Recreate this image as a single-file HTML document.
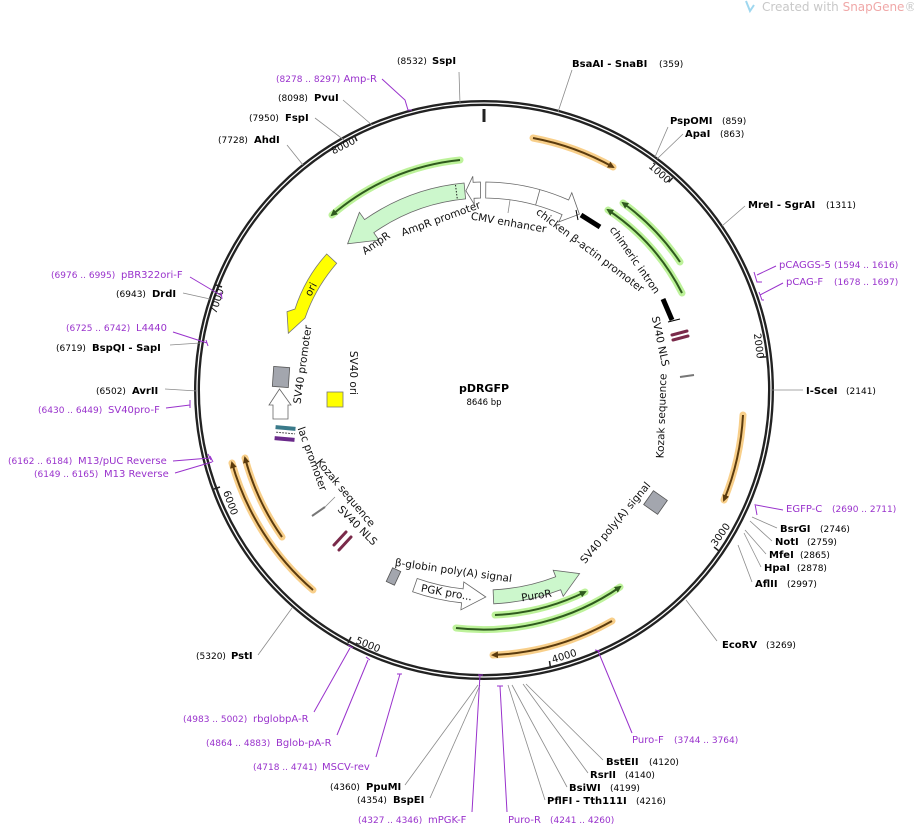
<!DOCTYPE html>
<html><head><meta charset="utf-8"><style>
html,body{margin:0;padding:0;background:#fff;}
svg{display:block;font-family:"DejaVu Sans","Liberation Sans",sans-serif;}
.e{font-weight:bold;font-size:10px;fill:#000}
.n{font-size:9px;fill:#000}
.p{font-size:10px;fill:#9932cc}
.f{font-size:10.5px;fill:#111}
.ld{stroke:#8a8a8a;stroke-width:0.8;fill:none}
.pl{stroke:#9932cc;stroke-width:1;fill:none}
.oh{stroke:#f8cf8a;stroke-width:7;fill:none;stroke-linecap:round}
.gh{stroke:#bdf29a;stroke-width:7;fill:none;stroke-linecap:round}
.ol{stroke:#5b3b0e;stroke-width:2;fill:none}
.gl{stroke:#2f5a1e;stroke-width:2;fill:none}
</style></head><body>
<svg width="914" height="827" viewBox="0 0 914 827" xmlns="http://www.w3.org/2000/svg">
<defs>
<marker id="ao" markerWidth="4" markerHeight="4" refX="2.5" refY="2" orient="auto" markerUnits="strokeWidth"><path d="M0,0.3 L3.5,2 L0,3.7 z" fill="#5b3b0e"/></marker>
<marker id="ag" markerWidth="4" markerHeight="4" refX="2.5" refY="2" orient="auto" markerUnits="strokeWidth"><path d="M0,0.3 L3.5,2 L0,3.7 z" fill="#2f5a1e"/></marker>
</defs>
<text x="762" y="11" font-size="12" fill="#c8c8c8">Created with <tspan fill="#f0a8a8">SnapGene</tspan>®</text>
<path d="M746,1 l4,10 l4,-6" stroke="#9fd7ef" stroke-width="2" fill="none"/>

<circle cx="484" cy="390" r="287" fill="none" stroke="#222" stroke-width="6"/>
<circle cx="484" cy="390" r="287" fill="none" stroke="#fff" stroke-width="1.3"/>
<line x1="484" y1="109" x2="484" y2="122" stroke="#222" stroke-width="3"/>

<g stroke="#222" stroke-width="1.5">
<line x1="668.6" y1="182.3" x2="672.6" y2="177.9"/>
<line x1="760" y1="357.2" x2="766" y2="356.9"/>
<line x1="714" y1="547" x2="719" y2="551"/>
<line x1="549.5" y1="661" x2="550.5" y2="668"/>
<line x1="351" y1="637" x2="348" y2="643"/>
<line x1="220" y1="487" x2="214" y2="489"/>
<line x1="222" y1="287" x2="216" y2="285"/>
<line x1="357" y1="141" x2="354" y2="135"/>
</g>
<g font-size="10" fill="#111">
<text x="667" y="184" text-anchor="end" transform="rotate(41.6 667 184)">1000</text>
<text x="757" y="359" text-anchor="end" transform="rotate(83 757 359)">2000</text>
<text x="716" y="547" transform="rotate(-55 716 547)">3000</text>
<text x="553" y="663" transform="rotate(-17 553 663)">4000</text>
<text x="355" y="643" transform="rotate(22 355 643)">5000</text>
<text x="223" y="492" transform="rotate(70 223 492)">6000</text>
<text x="224" y="290" text-anchor="end" transform="rotate(-72 224 290)">7000</text>
<text x="356" y="143" text-anchor="end" transform="rotate(-27 356 143)">8000</text>
</g>

<path class="oh" d="M533,138 A262,262 0 0 1 613,167"/>
<path class="ol" d="M533,138 A262,262 0 0 1 613,167" marker-end="url(#ao)"/>
<path class="gh" d="M680,262 A233,233 0 0 0 623,203"/>
<path class="gl" d="M680,262 A233,233 0 0 0 623,203" marker-end="url(#ag)"/>
<path class="gh" d="M682,293 A219,219 0 0 0 608,210"/>
<path class="gl" d="M682,293 A219,219 0 0 0 608,210" marker-end="url(#ag)"/>
<path class="oh" d="M743,415 A261,261 0 0 1 724,500"/>
<path class="ol" d="M743,415 A261,261 0 0 1 724,500" marker-end="url(#ao)"/>
<path class="gh" d="M456,628 A240,240 0 0 0 620,587"/>
<path class="gl" d="M456,628 A240,240 0 0 0 620,587" marker-end="url(#ag)"/>
<path class="gh" d="M495,615 A225,225 0 0 0 585,592"/>
<path class="gl" d="M495,615 A225,225 0 0 0 585,592" marker-end="url(#ag)"/>
<path class="oh" d="M612,621 A264,264 0 0 1 493,655"/>
<path class="ol" d="M612,621 A264,264 0 0 1 493,655" marker-end="url(#ao)"/>
<path class="oh" d="M313,590 A262,262 0 0 1 232,463"/>
<path class="ol" d="M313,590 A262,262 0 0 1 232,463" marker-end="url(#ao)"/>
<path class="oh" d="M282,537 A249,249 0 0 1 245,458"/>
<path class="ol" d="M282,537 A249,249 0 0 1 245,458" marker-end="url(#ao)"/>
<path class="gh" d="M460,160 A231,231 0 0 0 332,215"/>
<path class="gl" d="M460,160 A231,231 0 0 0 332,215" marker-end="url(#ag)"/>

<path d="M464.1,183 A208,208 0 0 0 364.6,219.6 L359.4,212.3 L347.6,243.8 L379,240.1 L373.8,232.7 A192,192 0 0 1 465.6,198.9 Z" fill="#ccf7cc" stroke="#666" stroke-width="0.8"/>
<line x1="455.5" y1="185" x2="457.3" y2="199" stroke="#222" stroke-dasharray="1.5,1.5"/>
<path d="M480.4,182 L473.1,182.3 L472.8,176.3 L465.9,190.8 L474.3,204.3 L474,198.3 L480.6,198 Z" fill="#fff" stroke="#666" stroke-width="0.8"/>
<path d="M485.8,182 A208,208 0 0 1 568.6,200 L571.8,192.7 L579.4,214.2 L558.8,221.9 L562.1,214.6 A192,192 0 0 0 485.7,198 Z" fill="#fff" stroke="#666" stroke-width="0.8"/>
<line x1="539.9" y1="189.7" x2="535.6" y2="205.1" stroke="#666" stroke-width="0.8"/>
<line x1="510" y1="200" x2="508" y2="213" stroke="#888" stroke-width="0.8"/>
<line x1="581" y1="215" x2="600" y2="227" stroke="#000" stroke-width="5"/>
<line x1="576" y1="210" x2="578" y2="220" stroke="#000" stroke-width="1"/>
<line x1="663" y1="299" x2="672" y2="320" stroke="#000" stroke-width="5"/>
<line x1="668" y1="322" x2="680" y2="319" stroke="#000" stroke-width="1"/>
<g stroke="#7a2a4a" stroke-width="3" stroke-linecap="round">
<line x1="672" y1="335" x2="687" y2="331"/><line x1="673" y1="340" x2="688" y2="336"/>
</g>
<line x1="680" y1="377" x2="694" y2="375" stroke="#777" stroke-width="2"/>
<rect x="647" y="494" width="17" height="17" fill="#a3a6ae" stroke="#555" stroke-width="0.8" transform="rotate(35 655.5 502.5)"/>
<path d="M493.7,603.8 A214,214 0 0 0 560.7,589.8 L563.2,596.3 L579.6,573.6 L553.2,570.2 L555.7,576.7 A200,200 0 0 1 493.1,589.8 Z" fill="#ccf7cc" stroke="#666" stroke-width="0.8"/>
<path d="M412.6,591.7 A214,214 0 0 0 461.6,602.8 L460.9,609.8 L485.8,597 L463.8,581.9 L463.1,588.9 A200,200 0 0 1 417.2,578.5 Z" fill="#fff" stroke="#666" stroke-width="0.8"/>
<rect x="389" y="569" width="9" height="15" fill="#a3a6ae" stroke="#555" stroke-width="0.8" transform="rotate(25 393.5 576.5)"/>
<g stroke="#7a2a4a" stroke-width="3" stroke-linecap="round">
<line x1="334" y1="545" x2="346" y2="532"/><line x1="339" y1="550" x2="351" y2="537"/>
</g>
<line x1="312" y1="516" x2="325" y2="507" stroke="#777" stroke-width="2"/>
<line x1="325" y1="507" x2="335" y2="497" stroke="#888" stroke-width="0.8"/>
<g transform="rotate(5 285 434)">
<rect x="275" y="426" width="20" height="4" fill="#3a7a8a"/>
<line x1="276" y1="433" x2="295" y2="433" stroke="#555" stroke-dasharray="2,1"/>
<rect x="275" y="437" width="20" height="4" fill="#6a2a8a"/>
</g>
<rect x="273" y="367" width="16" height="20" fill="#a3a6ae" stroke="#555" stroke-width="0.8" transform="rotate(4 281 377)"/>
<path d="M273,419 L273,405 L269,405 L279.5,389 L291,405 L288,405 L288,419 Z" fill="#fff" stroke="#666" stroke-width="0.8"/>
<rect x="327" y="392" width="16" height="15" fill="#ffff00" stroke="#777" stroke-width="0.8"/>
<path d="M326.7,254 L336.7,263.3 Q318,285 308,310 L305,318 L288.3,333.3 L287,311.7 L295,309 Q305,278 326.7,254 Z" fill="#ffff00" stroke="#777" stroke-width="0.8"/>

<g class="f">
<text x="378" y="246" text-anchor="middle" transform="rotate(-35 378 246)">AmpR</text>
<text x="442" y="222" text-anchor="middle" transform="rotate(-20 442 222)">AmpR promoter</text>
<text x="508" y="226" text-anchor="middle" transform="rotate(10 508 226)">CMV enhancer</text>
<text x="588" y="253" text-anchor="middle" transform="rotate(37 588 253)">chicken β-actin promoter</text>
<text x="632" y="262" text-anchor="middle" transform="rotate(55 632 262)">chimeric intron</text>
<text x="657" y="342" text-anchor="middle" transform="rotate(78 657 342)">SV40 NLS</text>
<text x="665" y="416" text-anchor="middle" transform="rotate(-88 665 416)">Kozak sequence</text>
<text x="618" y="525" text-anchor="middle" transform="rotate(-50 618 525)">SV40 poly(A) signal</text>
<text x="537" y="599" text-anchor="middle" transform="rotate(-9 537 599)">PuroR</text>
<text x="446" y="596" text-anchor="middle" transform="rotate(10 446 596)">PGK pro...</text>
<text x="453" y="574" text-anchor="middle" transform="rotate(8 453 574)">β-globin poly(A) signal</text>
<text x="355" y="528" text-anchor="middle" transform="rotate(45 355 528)">SV40 NLS</text>
<text x="343" y="495" text-anchor="middle" transform="rotate(50 343 495)">Kozak sequence</text>
<text x="309" y="460" text-anchor="middle" transform="rotate(70 309 460)">lac promoter</text>
<text x="306" y="365" text-anchor="middle" transform="rotate(-82 306 365)">SV40 promoter</text>
<text x="350" y="373" text-anchor="middle" transform="rotate(90 350 373)">SV40 ori</text>
<text x="314" y="291" text-anchor="middle" transform="rotate(-62 314 291)">ori</text>
</g>
<text x="484" y="392" text-anchor="middle" font-size="11" font-weight="bold">pDRGFP</text>
<text x="484" y="405" text-anchor="middle" font-size="8.5">8646 bp</text>

<g class="ld">
<line x1="460" y1="104" x2="459" y2="72"/>
<line x1="558" y1="112" x2="572" y2="70"/>
<line x1="655" y1="157" x2="668" y2="127"/>
<line x1="657" y1="159" x2="683" y2="134"/>
<line x1="722" y1="226" x2="745" y2="206"/>
<line x1="771" y1="390" x2="803" y2="390"/>
<line x1="752" y1="517" x2="777" y2="528"/>
<line x1="750" y1="521" x2="772" y2="541"/>
<line x1="745" y1="530" x2="766" y2="554"/>
<line x1="744" y1="533" x2="761" y2="567"/>
<line x1="738" y1="545" x2="752" y2="582"/>
<line x1="686" y1="600" x2="717" y2="641"/>
<line x1="526" y1="684" x2="603" y2="760"/>
<line x1="523" y1="684" x2="588" y2="773"/>
<line x1="512" y1="685" x2="567" y2="787"/>
<line x1="508" y1="685" x2="545" y2="800"/>
<line x1="478" y1="685" x2="405" y2="785"/>
<line x1="480" y1="685" x2="430" y2="798"/>
<line x1="292" y1="608" x2="258" y2="655"/>
<line x1="303" y1="165" x2="287" y2="145"/>
<line x1="344" y1="140" x2="315" y2="118"/>
<line x1="372" y1="125" x2="343" y2="100"/>
<line x1="183" y1="293" x2="210" y2="299"/>
<line x1="170" y1="345" x2="200" y2="343"/>
<line x1="165" y1="389" x2="197" y2="391"/>
</g>
<g class="pl">
<path d="M382,79 L405,100 L408,110 L412,110"/>
<path d="M776,266 L757,275 M754,272 L757,282 L762,282"/>
<path d="M783,283 L760,295 M759,292 L762,300 L764,300"/>
<path d="M783,510 L756,505 M755,504 L757,515"/>
<path d="M632,733 L598,651 M595,650 L600,651"/>
<path d="M507,812 L500,686 M497,686 L503,686"/>
<path d="M472,812 L480,675 M478,675 L483,675"/>
<path d="M376,757 L400,674 M397,674 L402,674"/>
<path d="M337,735 L368,660 M366,657 L370,660"/>
<path d="M314,712 L350,648 M348,645 L353,648"/>
<path d="M175,473 L212,462 M210,456 L213,462"/>
<path d="M173,461 L210,458 M208,454 L211,460"/>
<path d="M166,408 L190,405 M190,400 L190,408"/>
<path d="M173,332 L207,343 M206,340 L208,346"/>
<path d="M190,277 L222,296 M221,292 L222,299"/>
</g>

<text class="n" x="397" y="64">(8532)</text><text class="e" x="432" y="64">SspI</text>
<text class="e" x="572" y="67">BsaAI  - SnaBI</text><text class="n" x="659" y="67">(359)</text>
<text class="e" x="670" y="124">PspOMI</text><text class="n" x="722" y="124">(859)</text>
<text class="e" x="685" y="137">ApaI</text><text class="n" x="720" y="137">(863)</text>
<text class="e" x="748" y="208">MreI  - SgrAI</text><text class="n" x="826" y="208">(1311)</text>
<text class="e" x="806" y="394">I-SceI</text><text class="n" x="846" y="394">(2141)</text>
<text class="e" x="780" y="532">BsrGI</text><text class="n" x="820" y="532">(2746)</text>
<text class="e" x="775" y="545">NotI</text><text class="n" x="807" y="545">(2759)</text>
<text class="e" x="769" y="558">MfeI</text><text class="n" x="800" y="558">(2865)</text>
<text class="e" x="764" y="571">HpaI</text><text class="n" x="797" y="571">(2878)</text>
<text class="e" x="755" y="587">AflII</text><text class="n" x="787" y="587">(2997)</text>
<text class="e" x="722" y="648">EcoRV</text><text class="n" x="766" y="648">(3269)</text>
<text class="e" x="606" y="765">BstEII</text><text class="n" x="649" y="765">(4120)</text>
<text class="e" x="590" y="778">RsrII</text><text class="n" x="625" y="778">(4140)</text>
<text class="e" x="569" y="791">BsiWI</text><text class="n" x="610" y="791">(4199)</text>
<text class="e" x="547" y="804">PflFI  - Tth111I</text><text class="n" x="636" y="804">(4216)</text>
<text class="n" x="330" y="790">(4360)</text><text class="e" x="366" y="790">PpuMI</text>
<text class="n" x="357" y="803">(4354)</text><text class="e" x="393" y="803">BspEI</text>
<text class="n" x="196" y="659">(5320)</text><text class="e" x="231" y="659">PstI</text>
<text class="n" x="218" y="143">(7728)</text><text class="e" x="254" y="143">AhdI</text>
<text class="n" x="249" y="121">(7950)</text><text class="e" x="285" y="121">FspI</text>
<text class="n" x="278" y="101">(8098)</text><text class="e" x="314" y="101">PvuI</text>
<text class="n" x="116" y="297">(6943)</text><text class="e" x="152" y="297">DrdI</text>
<text class="n" x="56" y="351">(6719)</text><text class="e" x="92" y="351">BspQI  - SapI</text>
<text class="n" x="96" y="394">(6502)</text><text class="e" x="132" y="394">AvrII</text>

<g class="p">
<text x="276" y="82"><tspan font-size="9">(8278 .. 8297)</tspan>  Amp-R</text>
<text x="779" y="268">pCAGGS-5 <tspan font-size="9" x="834">(1594 .. 1616)</tspan></text>
<text x="786" y="285">pCAG-F <tspan font-size="9" x="834">(1678 .. 1697)</tspan></text>
<text x="786" y="512">EGFP-C <tspan font-size="9" x="832">(2690 .. 2711)</tspan></text>
<text x="632" y="743">Puro-F <tspan font-size="9" x="674">(3744 .. 3764)</tspan></text>
<text x="508" y="823">Puro-R <tspan font-size="9" x="550">(4241 .. 4260)</tspan></text>
<text x="358" y="823"><tspan font-size="9">(4327 .. 4346)</tspan><tspan x="428">mPGK-F</tspan></text>
<text x="253" y="770"><tspan font-size="9">(4718 .. 4741)</tspan><tspan x="322">MSCV-rev</tspan></text>
<text x="206" y="746"><tspan font-size="9">(4864 .. 4883)</tspan><tspan x="276">Bglob-pA-R</tspan></text>
<text x="183" y="722"><tspan font-size="9">(4983 .. 5002)</tspan><tspan x="253">rbglobpA-R</tspan></text>
<text x="8" y="464"><tspan font-size="9">(6162 .. 6184)</tspan><tspan x="78">M13/pUC Reverse</tspan></text>
<text x="34" y="477"><tspan font-size="9">(6149 .. 6165)</tspan><tspan x="104">M13 Reverse</tspan></text>
<text x="38" y="413"><tspan font-size="9">(6430 .. 6449)</tspan><tspan x="108">SV40pro-F</tspan></text>
<text x="66" y="331"><tspan font-size="9">(6725 .. 6742)</tspan><tspan x="136">L4440</tspan></text>
<text x="51" y="278"><tspan font-size="9">(6976 .. 6995)</tspan><tspan x="121">pBR322ori-F</tspan></text>
</g>
</svg>
</body></html>
